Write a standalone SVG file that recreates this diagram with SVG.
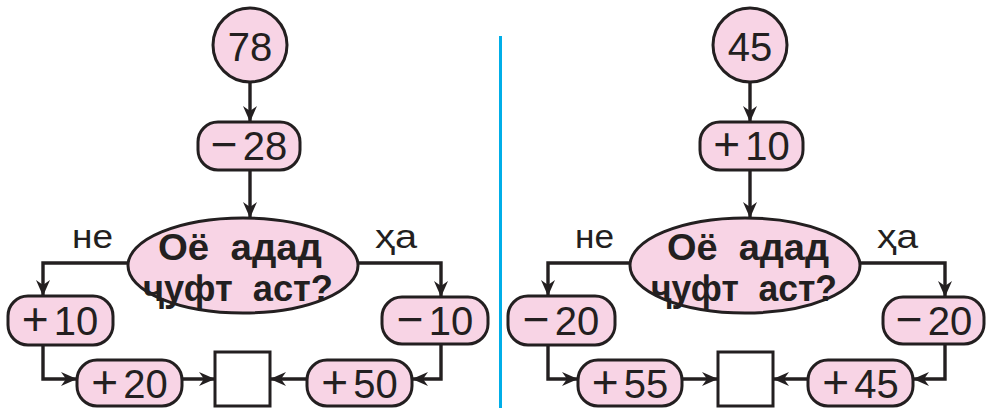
<svg xmlns="http://www.w3.org/2000/svg" width="986" height="408" viewBox="0 0 986 408">
<style>
.n{fill:#f8d4e5;stroke:#231f20;stroke-width:3}
.sq{fill:#ffffff;stroke:#231f20;stroke-width:3}
.c{fill:none;stroke:#231f20;stroke-width:3.4}
.t{font-family:"Liberation Sans",Arial,sans-serif;font-size:40px;fill:#231f20;text-anchor:middle}
.s{font-size:46px}
.q{font-family:"Liberation Sans",Arial,sans-serif;font-weight:bold;font-size:36px;fill:#231f20;text-anchor:middle;white-space:pre}
.l{font-family:"Liberation Sans",Arial,sans-serif;font-size:33px;fill:#231f20}
</style>
<defs>
<marker id="ah" markerUnits="userSpaceOnUse" markerWidth="18" markerHeight="16" refX="16" refY="7" orient="auto">
<path d="M0,0 L16,7 L0,14 L5,7 z" fill="#231f20"/>
</marker>
</defs>
<line x1="500.5" y1="36" x2="500.5" y2="408" stroke="#00aee8" stroke-width="3"/>
<g id="connectors">
<path class="c" d="M250,82 V122" marker-end="url(#ah)"/>
<path class="c" d="M250,170 V218" marker-end="url(#ah)"/>
<path class="c" d="M129,263 H43 V296" marker-end="url(#ah)"/>
<path class="c" d="M43,345 V379 H77" marker-end="url(#ah)"/>
<path class="c" d="M182,379 H215" marker-end="url(#ah)"/>
<path class="c" d="M357,263 H441 V297" marker-end="url(#ah)"/>
<path class="c" d="M441,344 V379 H412" marker-end="url(#ah)"/>
<path class="c" d="M307,379 H270" marker-end="url(#ah)"/>
<path class="c" d="M750,82 V122" marker-end="url(#ah)"/>
<path class="c" d="M750,170 V218" marker-end="url(#ah)"/>
<path class="c" d="M631,263 H548 V296" marker-end="url(#ah)"/>
<path class="c" d="M548,345 V379 H578" marker-end="url(#ah)"/>
<path class="c" d="M682,379 H718" marker-end="url(#ah)"/>
<path class="c" d="M859,263 H945 V297" marker-end="url(#ah)"/>
<path class="c" d="M945,344 V379 H913" marker-end="url(#ah)"/>
<path class="c" d="M808,379 H773" marker-end="url(#ah)"/>
</g>
<g id="labels">
<text class="l" x="72" y="248" textLength="41" lengthAdjust="spacingAndGlyphs">не</text>
<text class="l" x="375" y="248" textLength="42" lengthAdjust="spacingAndGlyphs">ҳа</text>
<text class="l" x="575" y="248" textLength="39" lengthAdjust="spacingAndGlyphs">не</text>
<text class="l" x="877" y="248" textLength="41" lengthAdjust="spacingAndGlyphs">ҳа</text>
</g>
<g id="start1"><circle class="n" cx="250" cy="45" r="37"/><text class="t" x="250" y="61">78</text></g>
<g id="op1"><rect class="n" x="198" y="122" width="102" height="48" rx="20"/><text class="t" x="249" y="160"><tspan class="s">−</tspan><tspan dx="5">28</tspan></text></g>
<g id="cond1"><ellipse class="n" cx="243" cy="265.5" rx="115" ry="47.5"/>
<text class="q" xml:space="preserve" x="240" y="260" textLength="164" lengthAdjust="spacingAndGlyphs">Оё  адад</text>
<text class="q" xml:space="preserve" x="238" y="301" textLength="190" lengthAdjust="spacingAndGlyphs">ҷуфт  аст?</text></g>
<g id="no1"><rect class="n" x="8" y="296" width="105" height="49" rx="20"/><text class="t" x="60" y="335"><tspan class="s">+</tspan><tspan dx="5">10</tspan></text></g>
<g id="yes1"><rect class="n" x="382" y="297" width="106" height="47" rx="20"/><text class="t" x="435" y="335"><tspan class="s">−</tspan><tspan dx="5">10</tspan></text></g>
<g id="no1b"><rect class="n" x="77" y="360" width="105" height="46" rx="20"/><text class="t" x="129.5" y="398"><tspan class="s">+</tspan><tspan dx="5">20</tspan></text></g>
<g id="yes1b"><rect class="n" x="307" y="360" width="105" height="46" rx="20"/><text class="t" x="359.5" y="398"><tspan class="s">+</tspan><tspan dx="5">50</tspan></text></g>
<g id="result1"><rect class="sq" x="215" y="352" width="55" height="54"/></g>
<g id="start2"><circle class="n" cx="750" cy="45" r="37"/><text class="t" x="750" y="61">45</text></g>
<g id="op2"><rect class="n" x="700" y="122" width="103" height="48" rx="20"/><text class="t" x="751.5" y="160"><tspan class="s">+</tspan><tspan dx="5">10</tspan></text></g>
<g id="cond2"><ellipse class="n" cx="745" cy="265.5" rx="115" ry="47.5"/>
<text class="q" xml:space="preserve" x="748" y="260" textLength="162" lengthAdjust="spacingAndGlyphs">Оё  адад</text>
<text class="q" xml:space="preserve" x="744" y="301" textLength="186" lengthAdjust="spacingAndGlyphs">ҷуфт  аст?</text></g>
<g id="no2"><rect class="n" x="508" y="296" width="107" height="49" rx="20"/><text class="t" x="561" y="335"><tspan class="s">−</tspan><tspan dx="5">20</tspan></text></g>
<g id="yes2"><rect class="n" x="883" y="297" width="101" height="47" rx="20"/><text class="t" x="934" y="335"><tspan class="s">−</tspan><tspan dx="5">20</tspan></text></g>
<g id="no2b"><rect class="n" x="578" y="360" width="104" height="46" rx="20"/><text class="t" x="630" y="398"><tspan class="s">+</tspan><tspan dx="5">55</tspan></text></g>
<g id="yes2b"><rect class="n" x="808" y="360" width="105" height="46" rx="20"/><text class="t" x="860.5" y="398"><tspan class="s">+</tspan><tspan dx="5">45</tspan></text></g>
<g id="result2"><rect class="sq" x="718" y="352" width="55" height="54"/></g>
</svg>
